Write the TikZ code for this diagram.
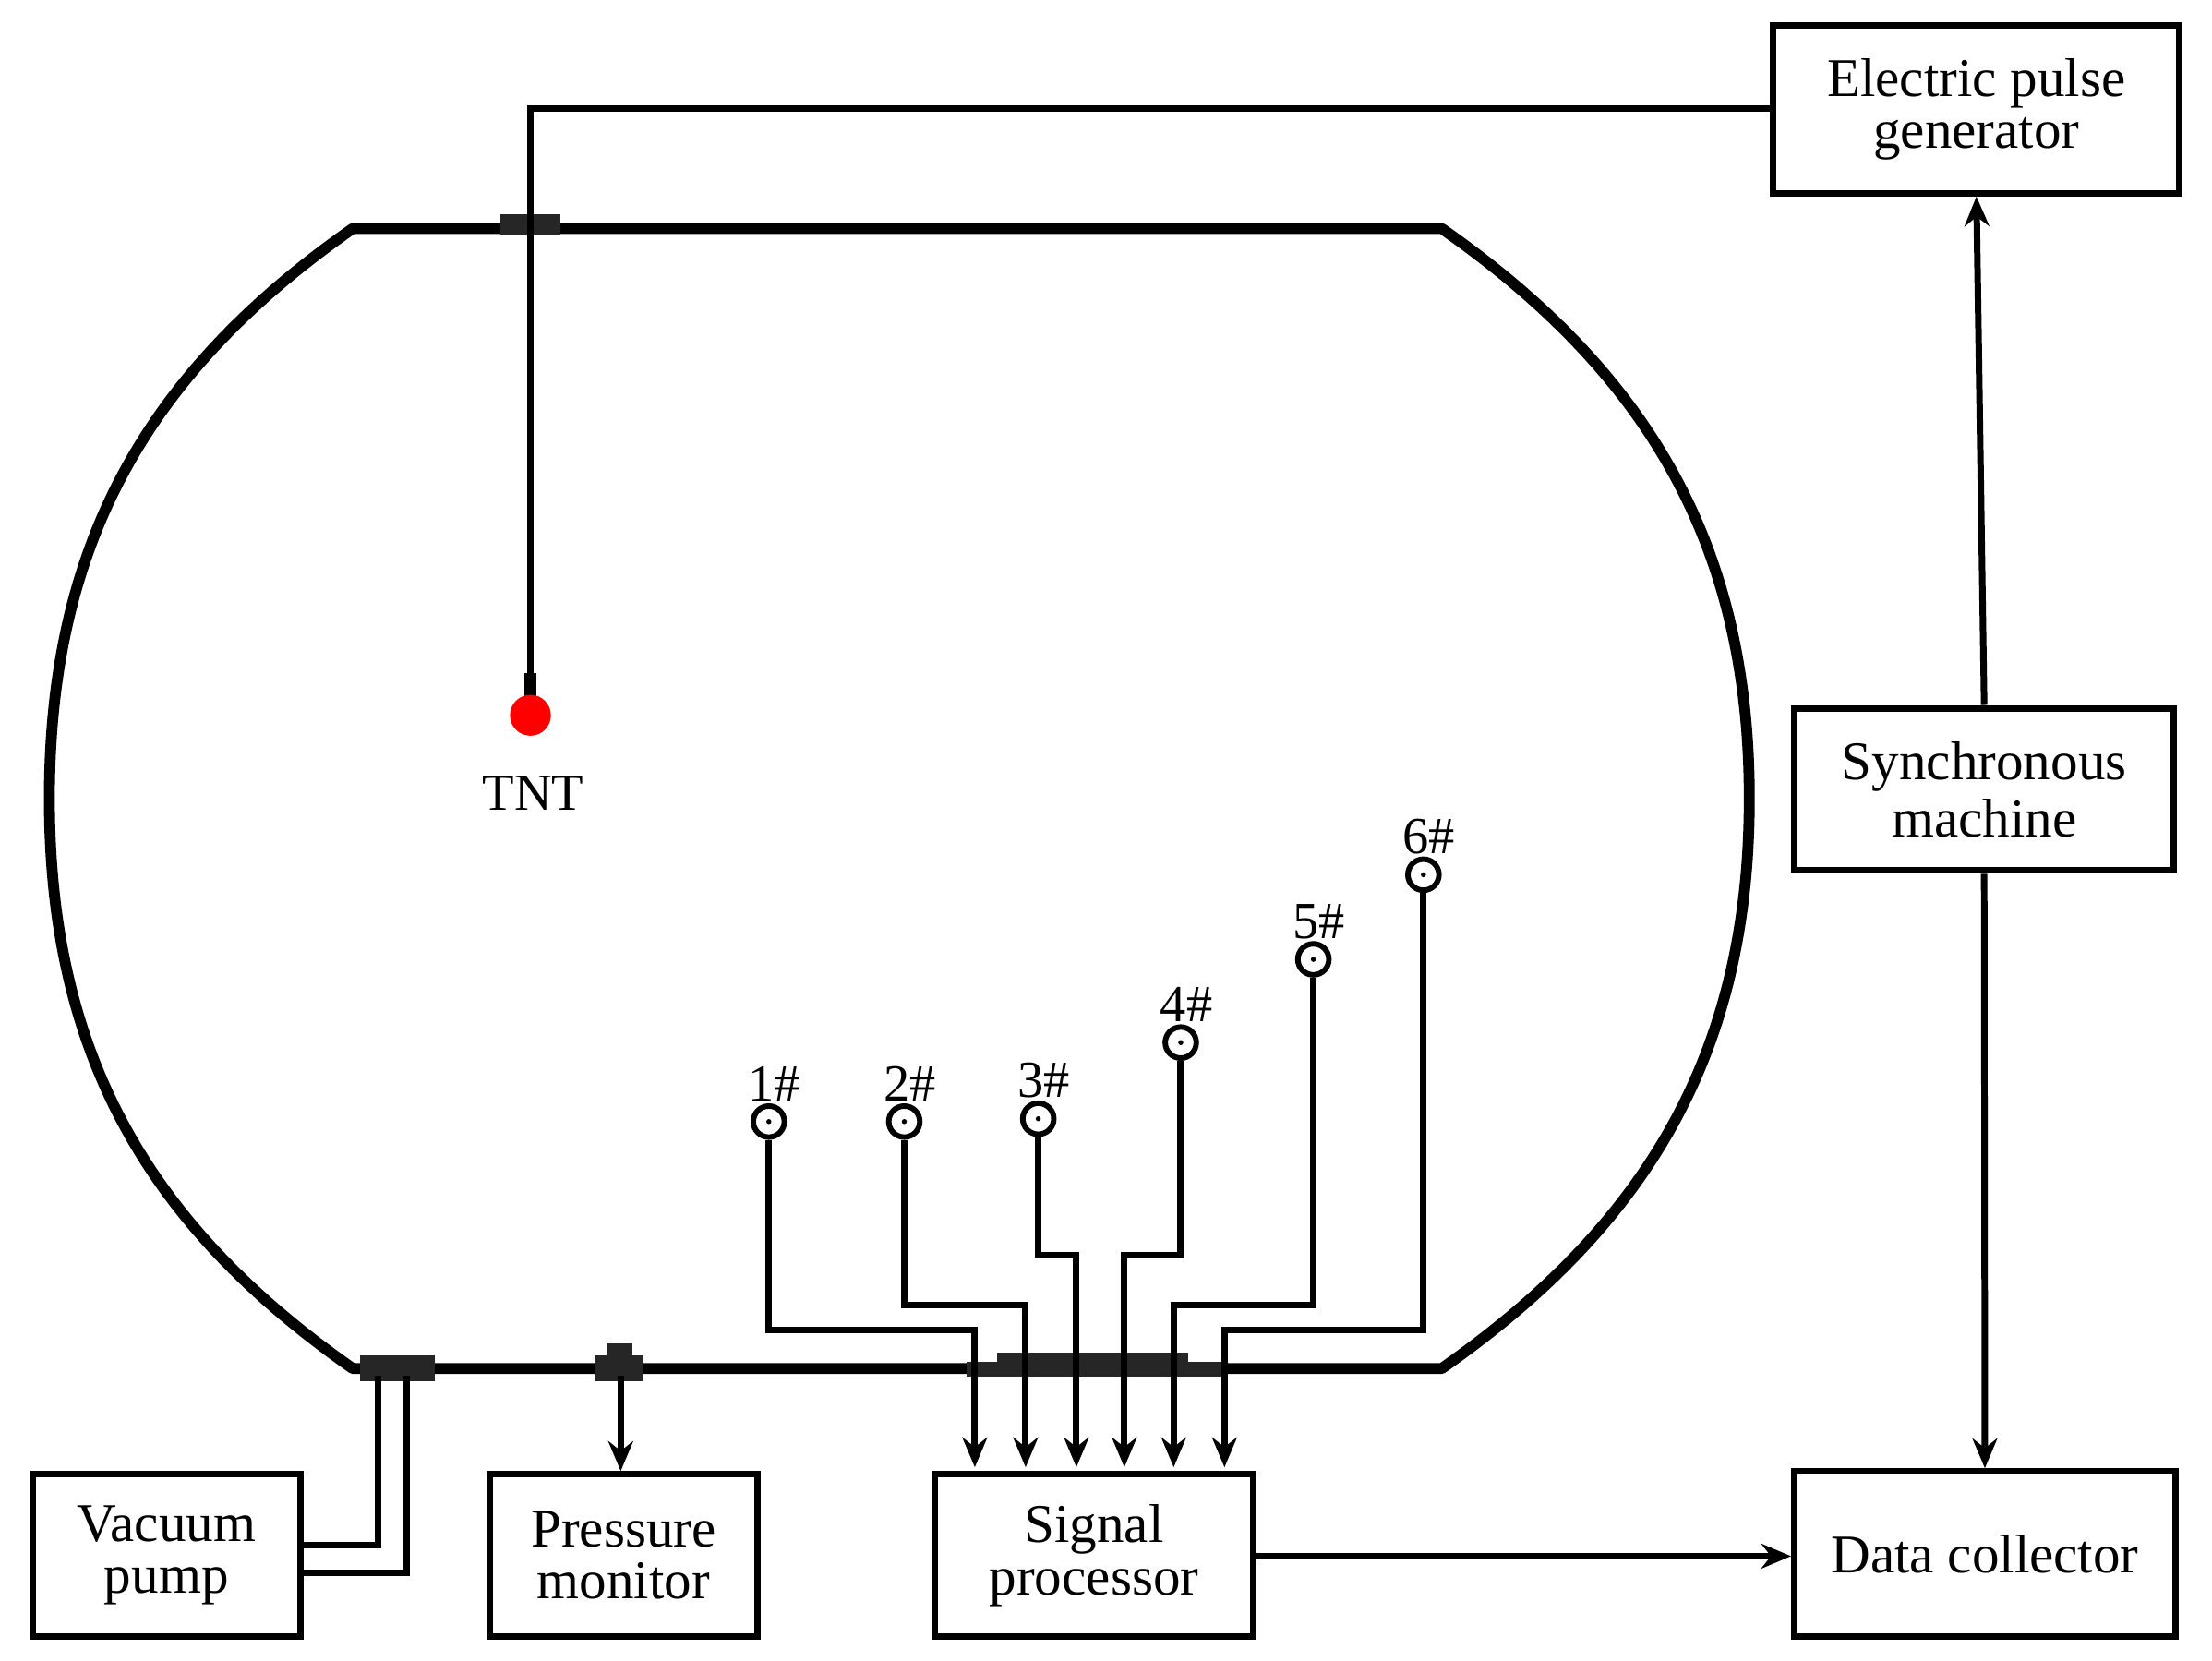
\documentclass[tikz,border=0pt]{standalone}
\usepackage{fontspec}
\setmainfont{Liberation Serif}
\usetikzlibrary{arrows.meta}
\begin{document}
\begin{tikzpicture}[x=0.01cm,y=-0.01cm,
 box/.style={draw,line width=1.3pt,inner sep=0pt,align=center,font=\fontsize{11}{10}\selectfont},
 wire/.style={line width=1.3pt},
 arr/.style={wire,-{Stealth[length=6pt,width=5pt]}},
 flange/.style={fill=black!85,draw=none},
 sens/.style={circle,draw,line width=1.1pt,minimum size=0.22cm,inner sep=0pt},
 lab/.style={font=\fontsize{10.5}{10}\selectfont,inner sep=0pt}]
\useasboundingbox (0,0) rectangle (1568,1177);
% chamber
\draw[line width=2.2pt,line join=round] (250,162) -- (1022,162) to[out=-35,in=90] (1240,566) to[out=-90,in=35] (1022,970) -- (250,970) to[out=145,in=-90] (35,566) to[out=90,in=-145] cycle;
% flanges
\fill[flange] (355,152) rectangle (397,166);
\fill[flange] (255,961) rectangle (308,979);
\fill[flange] (422,961) rectangle (456,979);
\fill[flange] (430,952) rectangle (448,962);
\fill[flange] (685,965) rectangle (868,976);
\fill[flange] (707,959) rectangle (842,967);
% boxes
\node[box,minimum width=2.88cm,minimum height=1.19cm] (epg) at (1401,77.5) {Electric pulse\\[0.5pt]generator};
\node[box,minimum width=2.69cm,minimum height=1.15cm] (sync) at (1406.5,559.5) {Synchronous\\[0.5pt]machine};
\node[box,minimum width=2.70cm,minimum height=1.17cm] (dc) at (1407,1101.5) {Data collector};
\node[box,minimum width=2.25cm,minimum height=1.15cm] (sp) at (775.5,1102.5) {Signal\\[0.5pt]processor};
\node[box,minimum width=1.90cm,minimum height=1.15cm] (pm) at (442,1102.5) {Pressure\\[0.5pt]monitor};
\node[box,minimum width=1.90cm,minimum height=1.15cm] (vp) at (118,1102.5) {Vacuum\\[0.5pt]pump};
% TNT
\coordinate (tcap) at (376,490);
\draw[wire] (epg.west |- 0,77) -- (376,77) -- (tcap);
\fill[black] (372,477) rectangle (380,494);
\node[circle,fill=red,minimum size=0.29cm,inner sep=0pt] (tnt) at (376,507) {};
\node[lab] at (378,562) {TNT};
% connections
\draw[arr] (sync.north) -- (epg.south);
\draw[arr] (sync.south) -- (dc.north);
\draw[arr] (sp.east |- 0,1103) -- (dc.west |- 0,1103);
\draw[arr] (440,975) -- (pm.north -| 440,0);
\draw[wire] (268,975) -- (268,1095) -- (vp.east |- 0,1095);
\draw[wire] (288,975) -- (288,1115) -- (vp.east |- 0,1115);
% sensors
\foreach \n/\x/\y/\tx/\ty/\ax in {1/545/795/547/943/691, 2/641/795/642/925/727, 3/736/793/738/890/763, 4/837/739/838/890/797, 5/931/680/934/925/832, 6/1009/620/1012/943/868}{
 \node[sens] (s\n) at (\x,\y) {};
 \fill (\x,\y) circle (1.8);
 \node[lab,anchor=south] at (\x+4,\y-14) {\n\#};
 \draw[arr,line join=miter] (s\n.south) |- (\ax,\ty) -- (\ax,1040);
}
\end{tikzpicture}
\end{document}
